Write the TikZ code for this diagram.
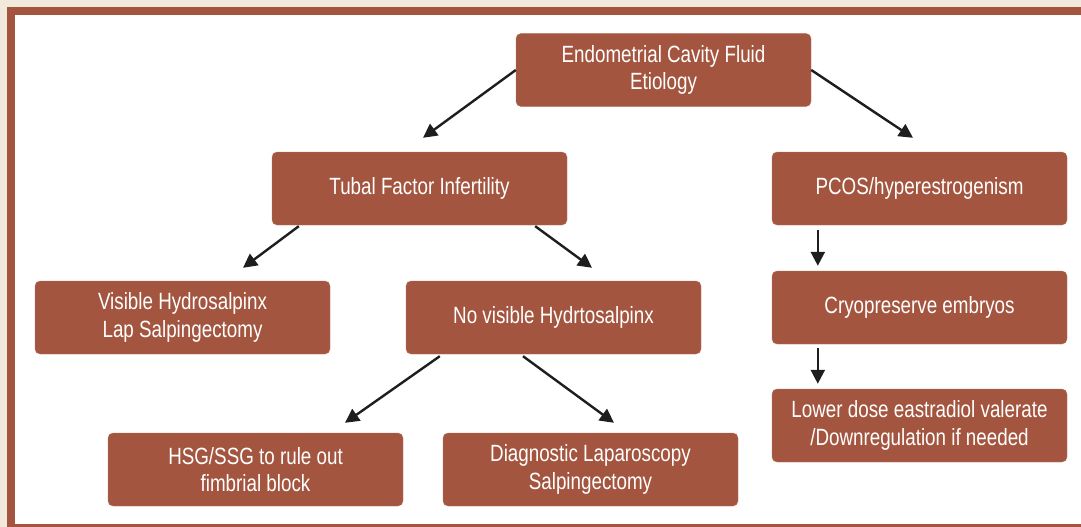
\documentclass[tikz,border=0pt]{standalone}
\usepackage{fontspec}
\setmainfont{Liberation Sans}[FakeStretch=0.80]
\usetikzlibrary{positioning,arrows.meta,calc}
\definecolor{rust}{HTML}{A3553F}
\definecolor{paper}{HTML}{F1EADC}
\definecolor{ink}{HTML}{1E1E1E}

\begin{document}
\begin{tikzpicture}[
  x=1pt,y=-1pt,
  font=\fontsize{23.5}{27.5}\selectfont,
  box/.style={fill=rust,draw=rust!80!white,rounded corners=5pt,minimum width=295pt,minimum height=73pt,inner sep=0pt,align=center,text=white},
  arr/.style={-{Triangle[length=14pt,width=14pt]},line width=2.4pt,ink},
]
\useasboundingbox (0,0) rectangle (1081,527);

% frame
\fill[paper] (0,0) rectangle (1081,527);
\fill[rust] (7,7) rectangle (1081,527);
\fill[white] (15,15) rectangle (1081,524);

% top level
\node[box] (root) at (663.5,70) {Endometrial Cavity Fluid\\Etiology};
\node[box] (tubal) at (419.5,188.5) {Tubal Factor Infertility};
\node[box] (pcos) at (919.5,188.5) {PCOS/hyperestrogenism};

% tubal branch
\node[box] (vis) at (182.5,317.5) {Visible Hydrosalpinx\\Lap Salpingectomy};
\node[box] (novis) at (553.5,317.5) {No visible Hydrtosalpinx};
\node[box] (hsg) at (255.5,469.5) {HSG/SSG to rule out\\fimbrial block};
\node[box] (diag) at (590.5,469.5) {Diagnostic Laparoscopy\\Salpingectomy};

% pcos branch
\node[box] (cryo) at (919.5,307.5) {Cryopreserve embryos};
\node[box] (lower) at (919.5,425.5) {Lower dose eastradiol valerate\\/Downregulation if needed};

% arrows
\draw[arr] (root.west) -- ([shift={(3.5,-14)}]tubal.north);
\draw[arr] (root.east) -- ([shift={(-6.5,-14)}]pcos.north);
\draw[arr] ([shift={(27,1)}]tubal.south west) -- ([shift={(60.5,-13)}]vis.north);
\draw[arr] ([shift={(-32,1)}]tubal.south east) -- ([shift={(38.5,-13)}]novis.north);
\draw[arr] ([shift={(46,5)}]pcos.south west) -- ([shift={(46,-5)}]cryo.north west);
\draw[arr] ([shift={(46,4)}]cryo.south west) -- ([shift={(46,-5)}]lower.north west);
\draw[arr] ([shift={(34,2)}]novis.south west) -- ([shift={(89.5,-10)}]hsg.north);
\draw[arr] ([shift={(-30.5,2)}]novis.south) -- ([shift={(23.5,-10)}]diag.north);
\end{tikzpicture}
\end{document}
